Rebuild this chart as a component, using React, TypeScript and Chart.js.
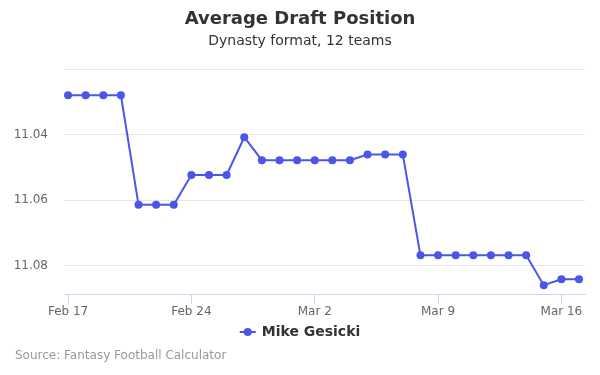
import React, { useEffect, useRef } from "react";
import { Chart, registerables } from "chart.js";

Chart.register(...registerables);

const dates = [
  "Feb 17", "Feb 18", "Feb 19", "Feb 20", "Feb 21", "Feb 22", "Feb 23",
  "Feb 24", "Feb 25", "Feb 26", "Feb 27", "Feb 28", "Feb 29", "Mar 1",
  "Mar 2", "Mar 3", "Mar 4", "Mar 5", "Mar 6", "Mar 7", "Mar 8",
  "Mar 9", "Mar 10", "Mar 11", "Mar 12", "Mar 13", "Mar 14", "Mar 15",
  "Mar 16", "Mar 17",
];

const adp = [
  11.028, 11.028, 11.028, 11.028, 11.0614, 11.0614, 11.0614,
  11.0523, 11.0523, 11.0523, 11.0408, 11.0478, 11.0478, 11.0478,
  11.0478, 11.0478, 11.0478, 11.0461, 11.0461, 11.0461, 11.0768,
  11.0768, 11.0768, 11.0768, 11.0768, 11.0768, 11.0768, 11.0859,
  11.0841, 11.0841,
];

const xTickIndices = [0, 7, 14, 21, 28];
const yTicks = [11.02, 11.04, 11.06, 11.08];

const seriesName = "Mike Gesicki";
const titleText = "Average Draft Position";
const subtitleText = "Dynasty format, 12 teams";
const sourceText = "Source: Fantasy Football Calculator";

const FONT = "'DejaVu Sans', sans-serif";
const COLOR = "#4b56e8";

const decorPlugin = {
  id: "decor",
  afterDraw(chart: any) {
    const ctx = chart.ctx;
    ctx.save();
    ctx.textBaseline = "middle";
    ctx.textAlign = "center";
    ctx.fillStyle = "#333333";
    ctx.font = `bold 18px ${FONT}`;
    ctx.fillText(titleText, 300, 19);
    ctx.fillStyle = "#333333";
    ctx.font = `14px ${FONT}`;
    ctx.fillText(subtitleText, 300, 41);

    // legend
    ctx.font = `bold 14px ${FONT}`;
    const tw = ctx.measureText(seriesName).width;
    const total = 16 + 6 + tw;
    const x0 = 300 - total / 2;
    const ly = 332;
    ctx.strokeStyle = COLOR;
    ctx.lineWidth = 2;
    ctx.beginPath();
    ctx.moveTo(x0, ly);
    ctx.lineTo(x0 + 16, ly);
    ctx.stroke();
    ctx.fillStyle = COLOR;
    ctx.beginPath();
    ctx.arc(x0 + 8, ly, 4, 0, Math.PI * 2);
    ctx.fill();
    ctx.fillStyle = "#333333";
    ctx.textAlign = "left";
    ctx.fillText(seriesName, x0 + 22, ly);

    // source
    ctx.font = `12px ${FONT}`;
    ctx.fillStyle = "#999999";
    ctx.fillText(sourceText, 15, 356);
    ctx.restore();
  },
};

export default function App() {
  const ref = useRef<HTMLCanvasElement>(null);
  useEffect(() => {
    if (!ref.current) return;
    const chart = new Chart(ref.current, {
      type: "line",
      data: {
        datasets: [
          {
            label: seriesName,
            data: adp.map((v, i) => ({ x: i, y: v })),
            borderColor: COLOR,
            backgroundColor: COLOR,
            borderWidth: 2,
            pointRadius: 4,
            pointHoverRadius: 4,
            pointBorderWidth: 0,
            tension: 0,
          },
        ],
      },
      options: {
        animation: false,
        responsive: false,
        maintainAspectRatio: false,
        layout: { padding: { left: 0, top: 69, right: 15, bottom: 0 } },
        plugins: {
          legend: { display: false },
          title: { display: false },
          tooltip: { enabled: false },
        },
        scales: {
          x: {
            type: "linear",
            min: -0.23,
            max: 29.34,
            afterBuildTicks: (scale: any) => {
              scale.ticks = xTickIndices.map((v) => ({ value: v }));
            },
            afterFit: (scale: any) => {
              scale.height = 81;
            },
            border: { display: true, color: "#ccd6eb", width: 1 },
            grid: {
              display: true,
              drawOnChartArea: false,
              drawTicks: true,
              tickLength: 10,
              color: "#ccd6eb",
            },
            ticks: {
              autoSkip: false,
              maxRotation: 0,
              padding: 1,
              color: "#666666",
              font: { family: FONT, size: 12 },
              callback: (v: any) => dates[Math.round(Number(v))] ?? "",
            },
          },
          y: {
            type: "linear",
            reverse: true,
            min: 11.02,
            max: 11.0886,
            afterBuildTicks: (scale: any) => {
              scale.ticks = yTicks.map((v) => ({ value: v }));
            },
            afterFit: (scale: any) => {
              scale.width = 64;
            },
            border: { display: false },
            grid: { color: "#e6e6e6", drawTicks: false, lineWidth: 1 },
            ticks: {
              padding: 16,
              color: "#666666",
              font: { family: FONT, size: 12 },
              callback: (v: any) =>
                Math.abs(Number(v) - 11.02) < 1e-6 ? "" : Number(v).toFixed(2),
            },
          },
        },
      },
      plugins: [decorPlugin],
    });
    return () => chart.destroy();
  }, []);
  return (
    <div style={{ position: "absolute", left: 0, top: 0, width: 600, height: 375, background: "#fff" }}>
      <canvas ref={ref} width={600} height={375} style={{ width: 600, height: 375 }} />
    </div>
  );
}
